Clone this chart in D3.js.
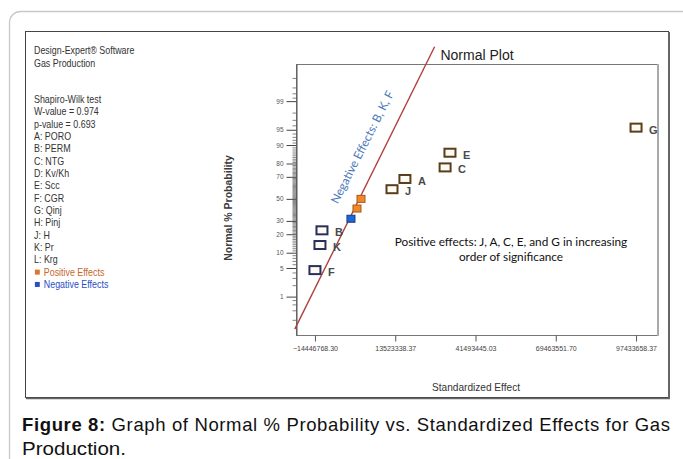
<!DOCTYPE html>
<html>
<head>
<meta charset="utf-8">
<script src="https://cdn.jsdelivr.net/npm/d3@7"></script>
<style>
	body { margin: 0; background: #fff; }
	svg { display: block; }
	.narrow { font-family: "Liberation Sans Narrow", "Arial Narrow", "Liberation Sans", Arial, sans-serif; }
</style>
</head>
<body>
<svg id="chart" width="683" height="459"></svg>
<script>
// effects, sorted from smallest to largest
var effectNames = ["F", "K", "B", "L", "D", "H", "J", "A", "C", "E", "G"];
var effectValues = [-14446768.30, -12700000, -12000000, -1900000, 200000, 1600000, 12400000, 16900000, 30900000, 32600000, 97433658.37];
var effectProbs = [4.5, 13.6, 22.7, 31.8, 40.9, 50, 59.1, 68.2, 77.3, 86.4, 95.5];
var effectSign = ["neg", "neg", "neg", "neg", "pos", "pos", "pos", "pos", "pos", "pos", "pos"];
var effectLabelled = [true, true, true, false, false, false, true, true, true, true, true];

var xTicks = [-14446768.30, 13523338.37, 41493445.03, 69463551.70, 97433658.37];
var yTicks = [1, 5, 10, 20, 30, 50, 70, 80, 90, 95, 99];
var yMinorTicks = [0.2, 0.4, 0.6, 0.8, 2, 3, 4, 6, 7, 8, 9, 11, 12, 13, 14, 15, 16, 17, 18, 19, 21, 22, 23, 24, 25, 26, 27, 28, 29,
	31, 32, 33, 34, 35, 36, 37, 38, 39, 40, 41, 42, 43, 44, 45, 46, 47, 48, 49, 51, 52, 53, 54, 55, 56, 57, 58, 59, 60,
	61, 62, 63, 64, 65, 66, 67, 68, 69, 71, 72, 73, 74, 75, 76, 77, 78, 79, 81, 82, 83, 84, 85, 86, 87, 88, 89,
	91, 92, 93, 94, 96, 97, 98, 99.2, 99.4, 99.6, 99.8];

// reference line through the small effects (x = intercept + slope * z)
var lineIntercept = 1000000;
var lineSlope = 7250000;
var lineZ = [-3.1, 3.62];

var sidePanel = ["Shapiro-Wilk test", "W-value = 0.974", "p-value = 0.693",
	"A: PORO", "B: PERM", "C: NTG", "D: Kv/Kh", "E: Scc", "F: CGR", "G: Qinj", "H: Pinj", "J: H", "K: Pr", "L: Krg"];

// inverse normal cdf (Acklam)
function probit(p) {
	var a = [-39.69683028665376, 220.9460984245205, -275.9285104469687, 138.3577518672690, -30.66479806614716, 2.506628277459239];
	var b = [-54.47609879822406, 161.5858368580409, -155.6989798598866, 66.80131188771972, -13.28068155288572];
	var c = [-0.007784894002430293, -0.3223964580411365, -2.400758277161838, -2.549732539343734, 4.374664141464968, 2.938163982698783];
	var d = [0.007784695709041462, 0.3224671290700398, 2.445134137142996, 3.754408661907416];
	var q, r;
	if (p < 0.02425) {
		q = Math.sqrt(-2 * Math.log(p));
		return (((((c[0]*q+c[1])*q+c[2])*q+c[3])*q+c[4])*q+c[5]) / ((((d[0]*q+d[1])*q+d[2])*q+d[3])*q+1);
	}
	if (p > 1 - 0.02425) {
		q = Math.sqrt(-2 * Math.log(1 - p));
		return -(((((c[0]*q+c[1])*q+c[2])*q+c[3])*q+c[4])*q+c[5]) / ((((d[0]*q+d[1])*q+d[2])*q+d[3])*q+1);
	}
	q = p - 0.5; r = q * q;
	return (((((a[0]*r+a[1])*r+a[2])*r+a[3])*r+a[4])*r+a[5])*q / (((((b[0]*r+b[1])*r+b[2])*r+b[3])*r+b[4])*r+1);
}

var svg = d3.select("#chart");
var plot = {left: 296, right: 657, top: 64, bottom: 335};

// outer frames
svg.append("rect").attr("x", 9.5).attr("y", 11.5).attr("width", 690).attr("height", 480)
	.attr("rx", 11).attr("fill", "none").attr("stroke", "#c8c8c8").attr("stroke-width", 1.3);
svg.append("rect").attr("x", 25.5).attr("y", 31.5).attr("width", 643).attr("height", 366)
	.attr("fill", "#fff").attr("stroke", "#444").attr("stroke-width", 1);
svg.append("line").attr("x1", 669).attr("x2", 669).attr("y1", 32).attr("y2", 399)
	.attr("stroke", "#666").attr("stroke-width", 2);
svg.append("line").attr("x1", 26).attr("x2", 670).attr("y1", 398.5).attr("y2", 398.5)
	.attr("stroke", "#666").attr("stroke-width", 1.5);

// scales
var x = d3.scaleLinear().domain([-21048368, 104730208]).range([plot.left, plot.right]);
var yz = d3.scaleLinear().domain([-3.24, 3.21]).range([plot.bottom, plot.top]);
function y(p) { return yz(probit(p / 100)); }

// plot box
svg.append("rect").attr("x", plot.left + 0.5).attr("y", plot.top + 0.5)
	.attr("width", plot.right - plot.left).attr("height", plot.bottom - plot.top)
	.attr("fill", "none").attr("stroke", "#777").attr("stroke-width", 1);
svg.append("line").attr("x1", plot.right + 1).attr("x2", plot.right + 1).attr("y1", plot.top).attr("y2", plot.bottom + 1)
	.attr("stroke", "#aaa").attr("stroke-width", 2);

// y axis
svg.append("g")
	.attr("transform", "translate(" + (plot.left + 0.5) + ",0)")
	.call(d3.axisLeft(yz).tickValues(yMinorTicks.map(function(p) { return probit(p / 100); }))
		.tickSize(4).tickFormat("").tickSizeOuter(0))
	.call(function(g) { g.select(".domain").remove(); })
	.selectAll("line").attr("stroke", "#333").attr("stroke-width", 0.6);

var yAxis = svg.append("g")
	.attr("transform", "translate(" + (plot.left + 0.5) + ",0)")
	.call(d3.axisLeft(yz).tickValues(yTicks.map(function(p) { return probit(p / 100); }))
		.tickSize(10).tickPadding(3).tickFormat(function(d, i) { return yTicks[i]; }).tickSizeOuter(0));
yAxis.select(".domain").attr("stroke", "#555");
yAxis.selectAll("line").attr("stroke", "#444");
yAxis.selectAll("text").attr("class", "narrow").style("font-size", "6.5px").attr("fill", "#555");

// x axis
var xAxis = svg.append("g")
	.attr("transform", "translate(0," + (plot.bottom + 0.5) + ")")
	.call(d3.axisBottom(x).tickValues(xTicks).tickFormat(d3.format(".2f")).tickSize(6).tickPadding(5).tickSizeOuter(0));
xAxis.select(".domain").remove();
xAxis.selectAll("line").attr("stroke", "#555");
xAxis.selectAll("text").attr("class", "narrow").style("font-size", "7px").attr("fill", "#444");

// titles
svg.append("text").attr("x", 477).attr("y", 60).attr("text-anchor", "middle")
	.style("font-family", "'Liberation Sans', Arial, sans-serif").style("font-size", "14px").attr("fill", "#222")
	.text("Normal Plot");
svg.append("text").attr("class", "narrow").attr("transform", "translate(476,391) scale(0.92,1)").attr("text-anchor", "middle")
	.style("font-size", "11px").attr("fill", "#333").text("Standardized Effect");
svg.append("text").attr("class", "narrow").attr("transform", "translate(232,208) rotate(-90)").attr("text-anchor", "middle")
	.style("font-size", "10.5px").style("font-weight", "bold").attr("fill", "#3a3a3a").text("Normal % Probability");

// side panel (narrow type)
var panel = svg.append("g").attr("class", "narrow").attr("transform", "translate(34,0) scale(0.89,1)")
	.style("font-size", "10px").attr("fill", "#333");
panel.append("text").attr("x", 0).attr("y", 54).text("Design-Expert® Software");
panel.append("text").attr("x", 0).attr("y", 67).text("Gas Production");
panel.selectAll("text.row").data(sidePanel).enter().append("text")
	.attr("class", "row")
	.attr("x", 0)
	.attr("y", function(d, i) { return 103 + i * 12.33; })
	.text(function(d) { return d; });
var legendY = 103 + sidePanel.length * 12.33;
panel.append("rect").attr("x", 1).attr("y", legendY - 6).attr("width", 5.5).attr("height", 5).attr("fill", "#d9782a");
panel.append("text").attr("x", 11).attr("y", legendY).attr("fill", "#c4672a").text("Positive Effects");
panel.append("rect").attr("x", 1).attr("y", legendY + 12.33 - 6).attr("width", 5.5).attr("height", 5).attr("fill", "#2a4fc4");
panel.append("text").attr("x", 11).attr("y", legendY + 12.33).attr("fill", "#2a4fc4").text("Negative Effects");

// reference line
var refLine = d3.line()
	.x(function(z) { return x(lineIntercept + lineSlope * z); })
	.y(function(z) { return yz(z); });
svg.append("path").attr("d", refLine(lineZ)).attr("fill", "none").attr("stroke", "#b0403e").attr("stroke-width", 1.4);

svg.append("text").attr("transform", "translate(366,149) rotate(-63)").attr("text-anchor", "middle")
	.style("font-family", "Lato, 'Open Sans', sans-serif").style("font-size", "11.8px").attr("fill", "#4a78b8")
	.text("Negative Effects: B, K, F");

// points
var points = effectNames.map(function(n, i) {
	return {name: n, value: effectValues[i], prob: effectProbs[i], sign: effectSign[i], labelled: effectLabelled[i]};
});
svg.selectAll("rect.pt").data(points).enter().append("rect")
	.attr("class", "pt")
	.attr("x", function(d) { return x(d.value) - (d.labelled ? 5.5 : 4); })
	.attr("y", function(d) { return y(d.prob) - (d.labelled ? 4 : 3.5); })
	.attr("width", function(d) { return d.labelled ? 11 : 8; })
	.attr("height", function(d) { return d.labelled ? 8 : 7; })
	.attr("fill", function(d) {
		if (d.labelled) return "#fffaf2";
		return d.sign == "pos" ? "#f0882a" : "#1f66d8";
	})
	.attr("stroke", function(d) {
		if (d.labelled) return d.sign == "pos" ? "#5a3e1c" : "#263058";
		return d.sign == "pos" ? "#a85a18" : "#183c80";
	})
	.attr("stroke-width", function(d) { return d.labelled ? 2 : 1; });

svg.selectAll("text.pt").data(points.filter(function(d) { return d.labelled; })).enter().append("text")
	.attr("class", "pt")
	.attr("x", function(d) { return x(d.value) + 13; })
	.attr("y", function(d) { return y(d.prob) + 6; })
	.style("font-family", "'Liberation Sans', Arial, sans-serif").style("font-size", "11px").style("font-weight", "bold")
	.attr("fill", "#4a4a4a")
	.text(function(d) { return d.name; });

// annotation
var note = svg.append("text").attr("text-anchor", "middle")
	.style("font-family", "Lato, 'Open Sans', sans-serif").style("font-size", "11.8px").attr("fill", "#111");
note.append("tspan").attr("x", 511).attr("y", 246).text("Positive effects: J, A, C, E, and G in increasing");
note.append("tspan").attr("x", 511).attr("y", 261).text("order of significance");

// caption
var cap = svg.append("g").style("font-family", "'Liberation Sans', Arial, sans-serif").style("font-size", "18.5px").attr("fill", "#111");
var cap1 = cap.append("text").attr("x", 22).attr("y", 431).attr("textLength", 648).attr("lengthAdjust", "spacing");
cap1.append("tspan").style("font-weight", "bold").text("Figure 8:");
cap1.append("tspan").text(" Graph of Normal % Probability vs. Standardized Effects for Gas");
cap.append("text").attr("x", 22).attr("y", 455).attr("textLength", 104).attr("lengthAdjust", "spacingAndGlyphs").text("Production.");
</script>
</body>
</html>
